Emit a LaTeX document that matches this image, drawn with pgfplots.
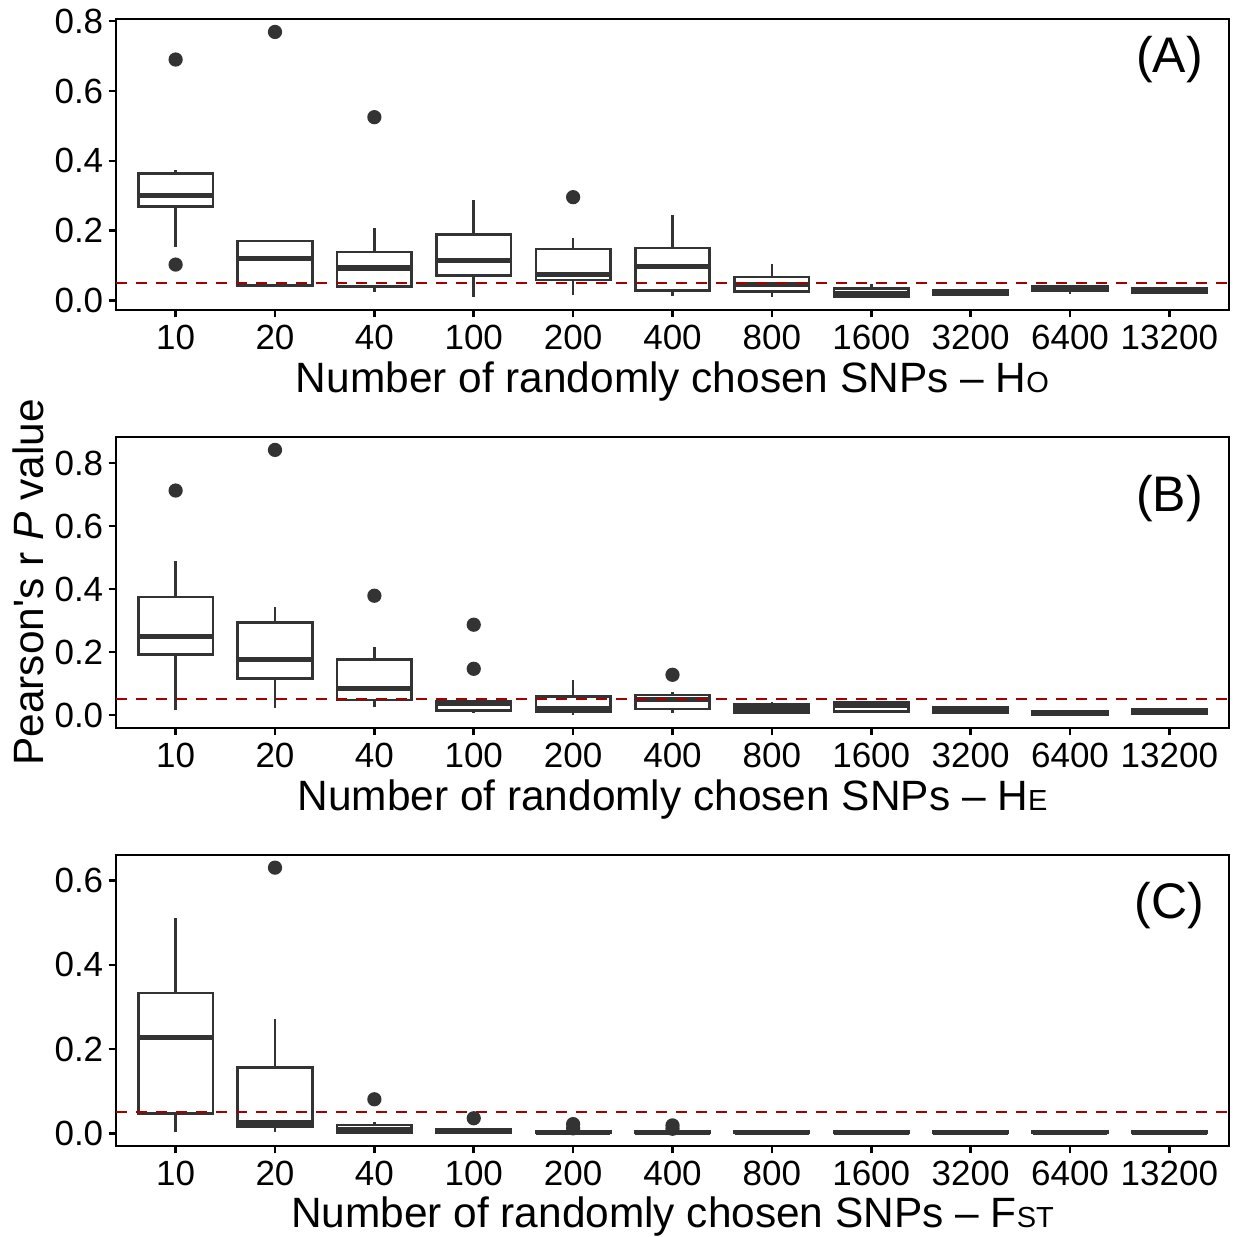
\documentclass[border=0pt]{standalone}
\usepackage{fontspec}
\setmainfont{Liberation Sans}
\usepackage{pgfplots}
\pgfplotsset{compat=1.18}
\usepgfplotslibrary{statistics}

\definecolor{boxgray}{HTML}{333333}
\definecolor{refred}{RGB}{165,0,0}

\newcommand{\tickfont}{\fontsize{17.5}{20}\selectfont}
\newcommand{\labfont}{\fontsize{21.2}{25}\selectfont}
\newcommand{\smallcap}{\fontsize{14.5}{17}\selectfont}

% one prepared boxplot: position, lower whisker, Q1, median, Q3, upper whisker
\newcommand{\bx}[6]{\addplot[bxstyle, boxplot prepared={draw direction=y, draw position=#1,
  lower whisker=#2, lower quartile=#3, median=#4, upper quartile=#5, upper whisker=#6}]}

\pgfplotsset{
  bxstyle/.style={
    draw=boxgray, line width=1.3pt, solid,
    mark=*, mark size=2.9pt, mark options={fill=boxgray, draw=none},
    boxplot/draw direction=y,
    boxplot/box extend=0.75,
    boxplot/every box/.style={fill=white, draw=boxgray, line width=1.3pt},
    boxplot/every median/.style={draw=boxgray, line width=2.6pt},
    boxplot/draw/lower whisker/.code={%
      \draw[draw=boxgray, line width=1.3pt]
        (boxplot box cs:\pgfplotsboxplotvalue{lower quartile},0.5) --
        (boxplot box cs:\pgfplotsboxplotvalue{lower whisker},0.5);},
    boxplot/draw/upper whisker/.code={%
      \draw[draw=boxgray, line width=1.3pt]
        (boxplot box cs:\pgfplotsboxplotvalue{upper quartile},0.5) --
        (boxplot box cs:\pgfplotsboxplotvalue{upper whisker},0.5);},
  },
  panel/.style={
    width=556.5pt, height=145.5pt, scale only axis,
    anchor=north west,
    xmin=0.4, xmax=11.6,
    xtick={1,...,11},
    xticklabels={10,20,40,100,200,400,800,1600,3200,6400,13200},
    tick pos=left, tick align=outside,
    major tick length=3.7pt,
    every tick/.style={black, line width=1.3pt},
    axis line style={black, line width=1.3pt},
    ticklabel style={font=\tickfont},
    /pgf/number format/.cd, fixed, fixed zerofill, precision=1, assume math mode=true,
    /pgfplots/.cd,
    xticklabel style={anchor=base, yshift=-16pt},
    yticklabel style={anchor=east, inner sep=0pt, xshift=-2.5pt},
    xlabel style={font=\labfont, at={(axis description cs:0.5,-0.283)}, anchor=base},
    clip=false,
  },
}

\begin{document}
\begin{tikzpicture}
\useasboundingbox (0,0) rectangle (616.5pt,-618.5pt);

% ---------------- (A) Ho
\begin{axis}[panel, at={(58pt,-9.5pt)},
  ymin=-0.027, ymax=0.806, ytick={0,0.2,...,0.8},
  xlabel={Number of randomly chosen SNPs -- H{\smallcap O}}]
\bx{1}{0.153}{0.269}{0.301}{0.363}{0.374} coordinates {(1,0.690) (1,0.103)};
\bx{2}{0.038}{0.043}{0.121}{0.170}{0.174} coordinates {(2,0.769)};
\bx{3}{0.024}{0.040}{0.093}{0.139}{0.208} coordinates {(3,0.525)};
\bx{4}{0.010}{0.072}{0.115}{0.189}{0.289} coordinates {};
\bx{5}{0.017}{0.059}{0.074}{0.148}{0.180} coordinates {(5,0.296)};
\bx{6}{0.014}{0.029}{0.097}{0.151}{0.244} coordinates {};
\bx{7}{0.011}{0.026}{0.046}{0.067}{0.105} coordinates {};
\bx{8}{0.010}{0.012}{0.019}{0.034}{0.048} coordinates {};
\bx{9}{0.017}{0.018}{0.023}{0.030}{0.032} coordinates {};
\bx{10}{0.019}{0.028}{0.035}{0.041}{0.043} coordinates {};
\bx{11}{0.021}{0.022}{0.028}{0.034}{0.035} coordinates {};
\addplot[refred, line width=1pt, dash pattern=on 5.5pt off 4.5pt] coordinates {(0.4,0.05) (11.6,0.05)};
\node[font=\fontsize{25}{30}\selectfont] at (axis cs:11,0.69) {(A)};
\end{axis}

% ---------------- (B) He
\begin{axis}[panel, at={(58pt,-218.5pt)},
  ymin=-0.041, ymax=0.883, ytick={0,0.2,...,0.8},
  xlabel={Number of randomly chosen SNPs -- H{\smallcap E}},
  ylabel={Pearson\textquotesingle s r \textit{P} value},
  ylabel style={font=\labfont, at={(axis description cs:-0.0647,0.5)}, anchor=base, rotate=0}]
\bx{1}{0.017}{0.193}{0.249}{0.375}{0.489} coordinates {(1,0.713)};
\bx{2}{0.022}{0.117}{0.177}{0.294}{0.344} coordinates {(2,0.842)};
\bx{3}{0.027}{0.048}{0.084}{0.176}{0.217} coordinates {(3,0.379)};
\bx{4}{0.006}{0.014}{0.036}{0.045}{0.045} coordinates {(4,0.287) (4,0.147)};
\bx{5}{0.001}{0.012}{0.022}{0.059}{0.112} coordinates {};
\bx{6}{0.008}{0.019}{0.050}{0.064}{0.072} coordinates {(6,0.128)};
\bx{7}{0.002}{0.008}{0.022}{0.033}{0.043} coordinates {};
\bx{8}{0.006}{0.011}{0.030}{0.040}{0.042} coordinates {};
\bx{9}{0.006}{0.007}{0.018}{0.025}{0.029} coordinates {};
\bx{10}{0.000}{0.001}{0.007}{0.013}{0.014} coordinates {};
\bx{11}{0.003}{0.004}{0.011}{0.018}{0.019} coordinates {};
\addplot[refred, line width=1pt, dash pattern=on 5.5pt off 4.5pt] coordinates {(0.4,0.05) (11.6,0.05)};
\node[font=\fontsize{25}{30}\selectfont] at (axis cs:11,0.687) {(B)};
\end{axis}

% ---------------- (C) Fst
\begin{axis}[panel, at={(58pt,-427.5pt)},
  ymin=-0.030, ymax=0.661, ytick={0,0.2,...,0.6},
  xlabel style={at={(axis description cs:0.5,-0.279)}},
  xlabel={Number of randomly chosen SNPs -- F{\smallcap ST}}]
\bx{1}{0.004}{0.047}{0.228}{0.333}{0.511} coordinates {};
\bx{2}{0.004}{0.016}{0.025}{0.157}{0.271} coordinates {(2,0.631)};
\bx{3}{0.000}{0.002}{0.008}{0.020}{0.028} coordinates {(3,0.081)};
\bx{4}{0.000}{0.002}{0.006}{0.010}{0.012} coordinates {(4,0.036)};
\bx{5}{0.000}{0.001}{0.003}{0.005}{0.007} coordinates {(5,0.022) (5,0.012)};
\bx{6}{0.000}{0.001}{0.003}{0.005}{0.007} coordinates {(6,0.019) (6,0.011)};
\bx{7}{0.000}{0.001}{0.002}{0.004}{0.005} coordinates {};
\bx{8}{0.000}{0.001}{0.002}{0.004}{0.005} coordinates {};
\bx{9}{0.000}{0.001}{0.002}{0.004}{0.005} coordinates {};
\bx{10}{0.000}{0.001}{0.002}{0.004}{0.005} coordinates {};
\bx{11}{0.000}{0.001}{0.002}{0.004}{0.005} coordinates {};
\addplot[refred, line width=1pt, dash pattern=on 5.5pt off 4.5pt] coordinates {(0.4,0.05) (11.6,0.05)};
\node[font=\fontsize{25}{30}\selectfont] at (axis cs:11,0.541) {(C)};
\end{axis}
\end{tikzpicture}
\end{document}
